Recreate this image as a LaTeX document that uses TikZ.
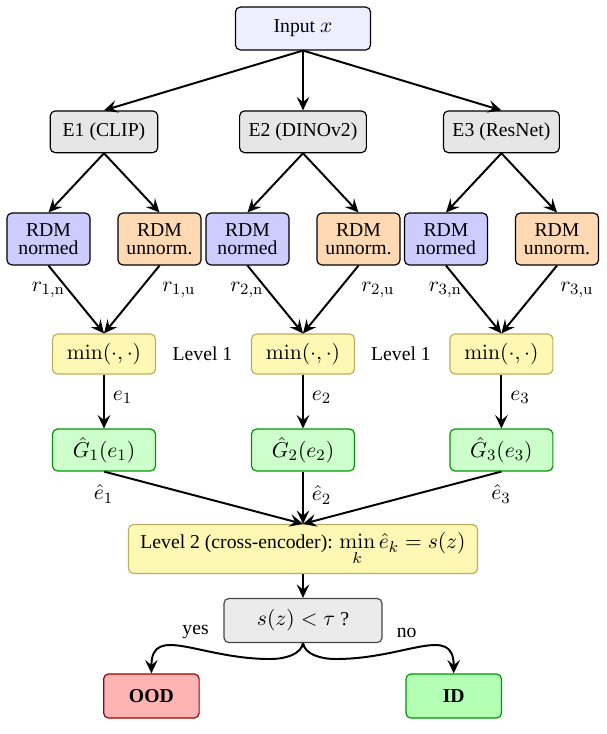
\documentclass[tikz,border=0pt]{standalone}
\usepackage[no-math]{fontspec}
\setmainfont{Liberation Serif}
\DeclareMathSizes{10}{11}{8}{6}
\usetikzlibrary{arrows.meta}
\definecolor{inputfill}{RGB}{238,238,255}
\definecolor{encfill}{RGB}{230,230,230}
\definecolor{normfill}{RGB}{204,204,255}
\definecolor{unnormfill}{RGB}{255,217,179}
\definecolor{minfill}{RGB}{255,248,181}
\definecolor{minborder}{RGB}{185,175,95}
\definecolor{gfill}{RGB}{204,255,204}
\definecolor{gborder}{RGB}{0,150,0}
\definecolor{decfill}{RGB}{235,235,235}
\definecolor{decborder}{RGB}{70,70,70}
\definecolor{oodfill}{RGB}{255,179,179}
\definecolor{oodborder}{RGB}{153,0,0}
\definecolor{idfill}{RGB}{179,255,179}
\tikzset{
  box/.style={draw, rounded corners=2.5pt, line width=0.6pt, align=center, inner sep=0pt},
  inbox/.style={box, fill=inputfill, minimum width=68.6pt, minimum height=21.8pt},
  encbox/.style={box, fill=encfill, minimum height=21.2pt},
  normbox/.style={box, fill=normfill, minimum width=42.2pt, minimum height=26.4pt},
  unnormbox/.style={box, fill=unnormfill, minimum width=42.2pt, minimum height=26.4pt},
  minbox/.style={box, draw=minborder, fill=minfill, minimum width=52.3pt, minimum height=20.3pt},
  gbox/.style={box, draw=gborder, fill=gfill, minimum width=52.3pt, minimum height=21.3pt},
  lvtwobox/.style={box, draw=minborder, fill=minfill, minimum width=177.3pt, minimum height=24.9pt},
  decbox/.style={box, draw=decborder, fill=decfill, minimum width=80.3pt, minimum height=22.4pt},
  oodbox/.style={box, draw=oodborder, fill=oodfill, minimum width=48.5pt, minimum height=22.4pt, font=\bfseries},
  idbox/.style={box, draw=gborder, fill=idfill, minimum width=48.5pt, minimum height=22.4pt, font=\bfseries},
  lbl/.style={inner sep=0pt},
  arr/.style={-{Stealth[length=6.8pt,width=6.4pt,inset=2.6pt]}, line width=1pt},
}
\begin{document}
\begin{tikzpicture}[x=0.508pt,y=-0.508pt]
\useasboundingbox (0,0) rectangle (606,734);
% nodes
\node[inbox] (in) at (303,28.5) {Input $x$};
\node[encbox, minimum width=54.6pt] (e1) at (104,131.8) {E1 (CLIP)};
\node[encbox, minimum width=64.4pt] (e2) at (303,131.8) {E2 (DINOv2)};
\node[encbox, minimum width=58.9pt] (e3) at (501.4,131.8) {E3 (ResNet)};
\node[normbox] (n1) at (48.5,239) {RDM\\[-2.9pt]normed};
\node[unnormbox] (u1) at (159.5,239) {RDM\\[-2.9pt]unnorm.};
\node[normbox] (n2) at (247.5,239) {RDM\\[-2.9pt]normed};
\node[unnormbox] (u2) at (358.5,239) {RDM\\[-2.9pt]unnorm.};
\node[normbox] (n3) at (446,239) {RDM\\[-2.9pt]normed};
\node[unnormbox] (u3) at (557,239) {RDM\\[-2.9pt]unnorm.};
\node[minbox] (m1) at (104,354) {$\min(\cdot,\cdot)$};
\node[minbox] (m2) at (303,354) {$\min(\cdot,\cdot)$};
\node[minbox] (m3) at (501.4,354) {$\min(\cdot,\cdot)$};
\node[lbl] (lv1a) at (202.5,354) {Level 1};
\node[lbl] (lv1b) at (401,354) {Level 1};
\node[gbox] (g1) at (104,450) {$\hat{G}_1(e_1)$};
\node[gbox] (g2) at (303,450) {$\hat{G}_2(e_2)$};
\node[gbox] (g3) at (501.4,450) {$\hat{G}_3(e_3)$};
\node[lvtwobox] (lv2) at (303,549) {Level 2 (cross-encoder): $\min\limits_{k}\hat{e}_k = s(z)$};
\node[decbox] (dec) at (303,620.5) {$s(z) < \tau$ ?};
\node[oodbox] (ood) at (151.4,696) {OOD};
\node[idbox] (id) at (453.7,696) {ID};
% labels
\node[lbl] (r1n) at (48.5,290) {$r_{1,\mathrm{n}}$};
\node[lbl] (r1u) at (179,290) {$r_{1,\mathrm{u}}$};
\node[lbl] (r2n) at (247,290) {$r_{2,\mathrm{n}}$};
\node[lbl] (r2u) at (378,290) {$r_{2,\mathrm{u}}$};
\node[lbl] (r3n) at (445.5,290) {$r_{3,\mathrm{n}}$};
\node[lbl] (r3u) at (577,290) {$r_{3,\mathrm{u}}$};
\node[lbl] (h1) at (103.6,494) {$\hat{e}_1$};
\node[lbl] (h3) at (501,494) {$\hat{e}_3$};
\node[lbl] (yes) at (195.6,632) {yes};
\node[lbl] (no) at (406.7,633) {no};
% connectors
\foreach \e in {e1,e2,e3} \draw[arr] (in.south) -- (\e.north);
\draw[arr] (e1.south) -- (n1.north);
\draw[arr] (e1.south) -- (u1.north);
\draw[arr] (e2.south) -- (n2.north);
\draw[arr] (e2.south) -- (u2.north);
\draw[arr] (e3.south) -- (n3.north);
\draw[arr] (e3.south) -- (u3.north);
\draw[arr] (n1.south) -- (m1.north);
\draw[arr] (u1.south) -- (m1.north);
\draw[arr] (n2.south) -- (m2.north);
\draw[arr] (u2.south) -- (m2.north);
\draw[arr] (n3.south) -- (m3.north);
\draw[arr] (u3.south) -- (m3.north);
\draw[arr] (m1.south) -- node[right, pos=0.42, inner sep=4pt] {$e_1$} (g1.north);
\draw[arr] (m2.south) -- node[right, pos=0.42, inner sep=4pt] {$e_2$} (g2.north);
\draw[arr] (m3.south) -- node[right, pos=0.42, inner sep=4pt] {$e_3$} (g3.north);
\draw[arr] (g1.south) -- (lv2.north);
\draw[arr] (g2.south) -- node[right, pos=0.45, inner sep=4pt] {$\hat{e}_2$} (lv2.north);
\draw[arr] (g3.south) -- (lv2.north);
\draw[arr] (lv2.south) -- (dec.north);
\draw[arr] (dec.south) .. controls +(-2,11) and +(16,0) .. (270,659)
  .. controls +(-70,0) and +(0,-50) .. (ood.north);
\draw[arr] (dec.south) .. controls +(2,11) and +(-16,0) .. (336,659)
  .. controls +(70,0) and +(0,-50) .. (id.north);
\end{tikzpicture}
\end{document}
